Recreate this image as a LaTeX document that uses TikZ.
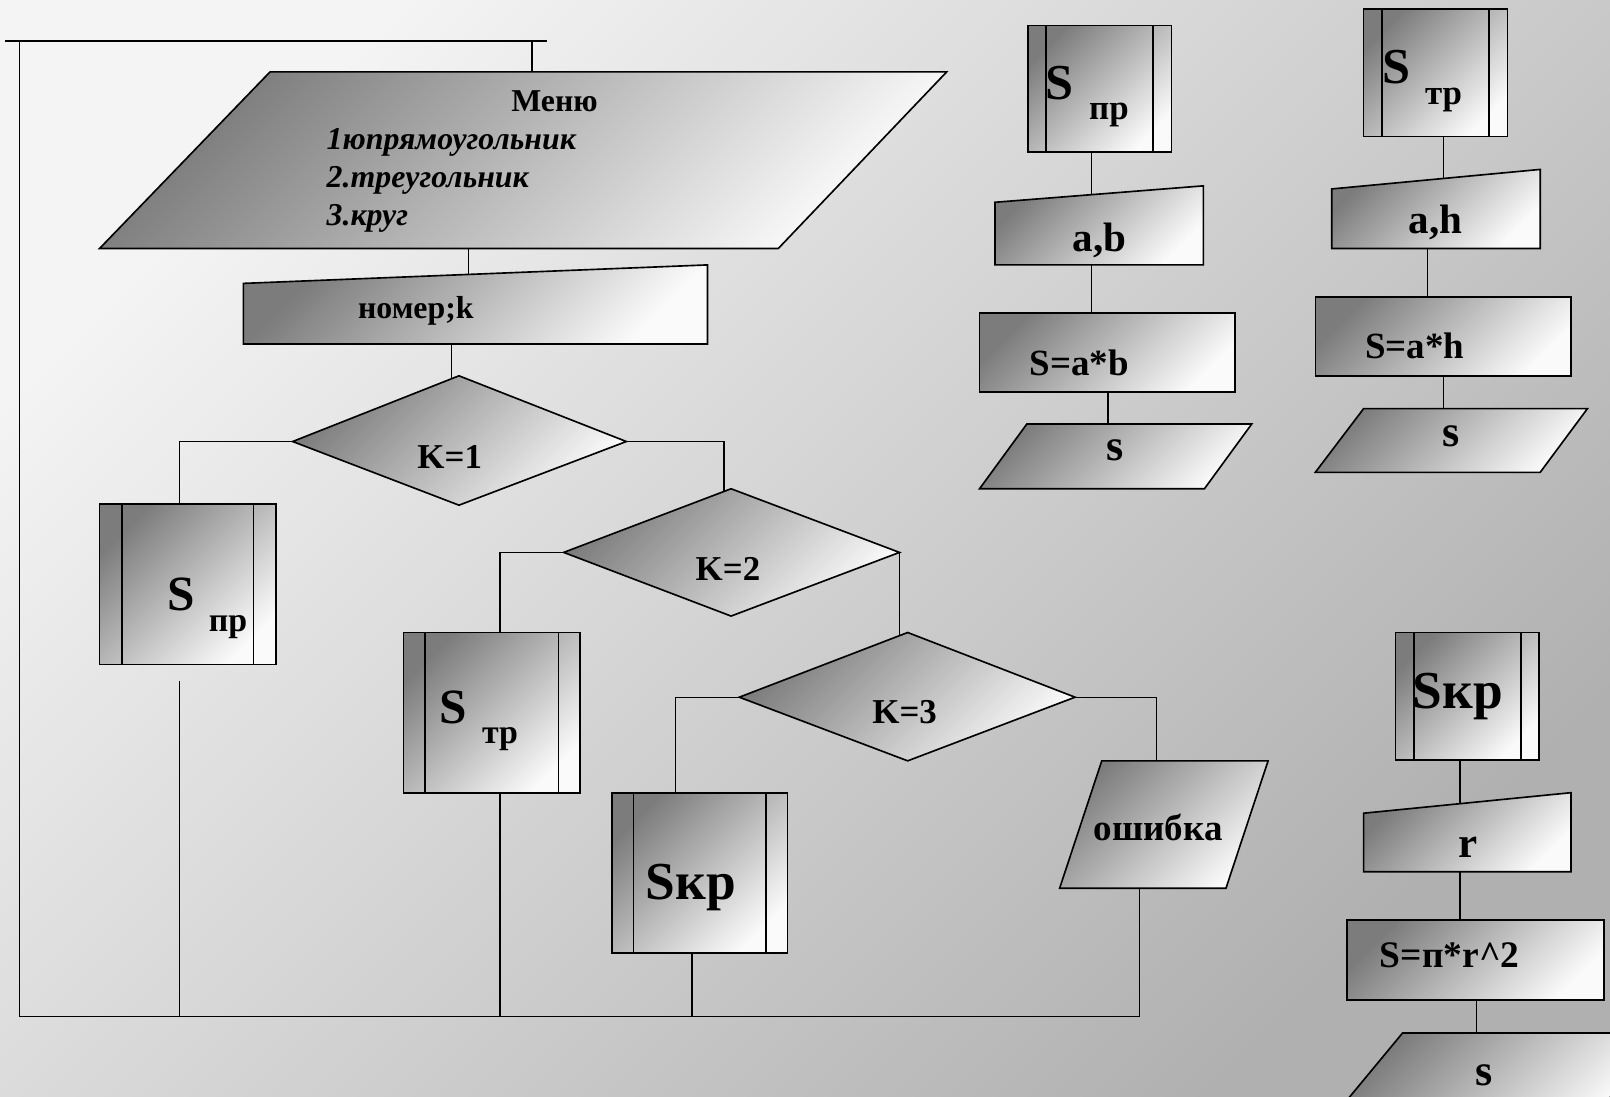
\documentclass[tikz,border=0pt]{standalone}
\usepackage{fontspec}
\setmainfont{Liberation Serif}
\usetikzlibrary{calc}
\definecolor{bgA}{HTML}{F4F4F4}
\definecolor{bgB}{HTML}{B0B0B0}
\definecolor{shA}{HTML}{7C7C7C}
\definecolor{shB}{HTML}{FAFAFA}
\tikzset{
  blk/.style={draw=black, line width=1.6pt, top color=shA, bottom color=shB, shading angle=45},
  strip/.style={line width=1.6pt},
  wire/.style={line width=1.3pt},
  frame/.style={line width=2.4pt},
  txt/.style={inner sep=0pt, font=\bfseries\fontsize{#1}{#1}\selectfont},
  itxt/.style={inner sep=0pt, font=\bfseries\itshape\fontsize{#1}{#1}\selectfont},
}
% predefined-process block: x1,y1,x2,y2, inner strip lines xa,xb
\newcommand\predef[6]{%
  \draw[blk] (#1,#2) rectangle (#3,#4);
  \draw[strip] (#5,#2) -- (#5,#4) (#6,#2) -- (#6,#4);
}
\begin{document}
\begin{tikzpicture}[x=1pt,y=-1pt]
\useasboundingbox (0,0) rectangle (1568,1068);
\clip (0,0) rectangle (1568,1068);
\fill[top color=bgA, bottom color=bgB, shading angle=45] (0,0) rectangle (1568,1068);

% ---------- main program ----------
\draw[blk] (263,70) -- (922,70) -- (758,242) -- (97,242) -- cycle;
\node[txt=31, anchor=base] (menu) at (540,109) {Меню};
\node[itxt=31, anchor=base west] (opt1) at (318,146) {1юпрямоугольник};
\node[itxt=31, anchor=base west] (opt2) at (318,183) {2.треугольник};
\node[itxt=31, anchor=base west] (opt3) at (318,220) {3.круг};

\draw[blk] (237,276) -- (689,258) -- (689,335) -- (237,335) -- cycle;
\node[txt=31] (num) at (405,303) {номер;k};

\draw[blk] (447,366) -- (610,430) -- (447,492) -- (285,430) -- cycle;
\node[txt=34] (k1) at (438,445) {K=1};
\draw[blk] (712,476) -- (876,538) -- (712,600) -- (549,538) -- cycle;
\node[txt=34] (k2) at (709,554) {K=2};
\draw[blk] (884,616) -- (1047,679) -- (884,741) -- (720,679) -- cycle;
\node[txt=34] (k3) at (881,694) {K=3};

\predef{97}{491}{269}{647}{119}{247}
\node[txt=48] (spS) at (176,579) {S};
\node[txt=33] (spI) at (222,611) {пр};
\predef{393}{616}{565}{772}{414}{544}
\node[txt=48] (stS) at (441,689) {S};
\node[txt=33] (stI) at (487,720) {тр};
\predef{596}{772}{767}{928}{617}{746}
\node[txt=52] (sk) at (673,864) {Sкр};

\draw[blk] (1073,741) -- (1235,741) -- (1194,865) -- (1032,865) -- cycle;
\node[txt=36] (err) at (1128,806) {ошибка};

% connection points
\coordinate (lpA) at (5,40);   \coordinate (lpB) at (533,40);
\coordinate (lpL) at (19,40);  \coordinate (lpR) at (518,40);
\coordinate (mnT) at (518,70); \coordinate (bsL) at (19,990);
\coordinate (bsR) at (1110,990);
\coordinate (mnB) at (456,242); \coordinate (nmT) at (456,267);
\coordinate (nmB) at (440,335); \coordinate (d1T) at (440,369);
\coordinate (d1L) at (285,430); \coordinate (d1R) at (610,430);
\coordinate (spT) at (175,491); \coordinate (spB) at (175,663);
\coordinate (d2T) at (705,479);
\coordinate (d2L) at (549,538); \coordinate (d2R) at (876,538);
\coordinate (stT) at (487,616); \coordinate (stB) at (487,772);
\coordinate (d3T) at (876,619);
\coordinate (d3L) at (720,679); \coordinate (d3R) at (1047,679);
\coordinate (skT) at (658,772); \coordinate (skB) at (674,928);
\coordinate (erT) at (1126,741); \coordinate (erB) at (1110,865);

% return loop
\draw[frame] (lpA) -- (lpB);
\draw[wire] (lpR) -- (mnT);
\draw[wire] (lpL) -- (bsL);
\draw[wire] (bsL) -- (bsR);

\draw[wire] (mnB) -- (nmT);
\draw[wire] (nmB) -- (d1T);
\draw[wire] (d1L) -| (spT);
\draw[wire] (d1R) -| (d2T);
\draw[wire] (d2L) -| (stT);
\draw[wire] (d2R) -- (d3T);
\draw[wire] (d3L) -| (skT);
\draw[wire] (d3R) -| (erT);
\draw[wire] (spB) -- (spB |- bsL);
\draw[wire] (stB) -- (stB |- bsL);
\draw[wire] (skB) -- (skB |- bsL);
\draw[wire] (erB) -- (bsR);

% ---------- rectangle area ----------
\predef{1001}{25}{1141}{148}{1019}{1123}
\node[txt=49] (rS) at (1032,81) {S};
\node[txt=34] (rI) at (1080,112) {пр};
\draw[blk] (969,197) -- (1172,181) -- (1172,258) -- (969,258) -- cycle;
\node[txt=40] (rIn) at (1071,234) {a,b};
\draw[blk] (954,305) rectangle (1203,382);
\node[txt=36] (rCalc) at (1051,353) {S=a*b};
\draw[blk] (1000,413) -- (1219,413) -- (1173,476) -- (954,476) -- cycle;
\node[txt=43] (rOut) at (1086,439) {s};
\coordinate (r1) at (1063,148); \coordinate (r2) at (1063,190);
\coordinate (r3) at (1063,258); \coordinate (r4) at (1063,305);
\coordinate (r5) at (1079,382); \coordinate (r6) at (1079,413);
\draw[wire] (r1) -- (r2);
\draw[wire] (r3) -- (r4);
\draw[wire] (r5) -- (r6);

% ---------- triangle area ----------
\predef{1328}{9}{1468}{133}{1346}{1450}
\node[txt=49] (tS) at (1360,65) {S};
\node[txt=34] (tI) at (1406,97) {тр};
\draw[blk] (1297,184) -- (1500,165) -- (1500,242) -- (1297,242) -- cycle;
\node[txt=40] (tIn) at (1398,217) {a,h};
\draw[blk] (1281,289) rectangle (1530,366);
\node[txt=36] (tCalc) at (1378,337) {S=a*h};
\draw[blk] (1328,398) -- (1546,398) -- (1500,460) -- (1281,460) -- cycle;
\node[txt=43] (tOut) at (1413,425) {s};
\coordinate (t1) at (1406,133); \coordinate (t2) at (1406,174);
\coordinate (t3) at (1390,242); \coordinate (t4) at (1390,289);
\coordinate (t5) at (1406,366); \coordinate (t6) at (1406,398);
\draw[wire] (t1) -- (t2);
\draw[wire] (t3) -- (t4);
\draw[wire] (t5) -- (t6);

% ---------- circle area ----------
\predef{1359}{616}{1499}{740}{1377}{1481}
\node[txt=52] (cS) at (1420,678) {Sкр};
\draw[blk] (1328,792) -- (1530,772) -- (1530,849) -- (1328,849) -- cycle;
\node[txt=42] (cIn) at (1430,825) {r};
\draw[blk] (1312,896) rectangle (1562,974);
\node[txt=36.5] (cCalc) at (1412,930) {S=п*r\^{}2};
\draw[blk] (1366,1006) -- (1622,1006) -- (1567,1070) -- (1313,1070) -- cycle;
\node[txt=43] (cOut) at (1445,1047) {s};
\coordinate (c1) at (1422,740); \coordinate (c2) at (1422,783);
\coordinate (c3) at (1422,849); \coordinate (c4) at (1422,896);
\coordinate (c5) at (1438,974); \coordinate (c6) at (1438,1006);
\draw[wire] (c1) -- (c2);
\draw[wire] (c3) -- (c4);
\draw[wire] (c5) -- (c6);
\end{tikzpicture}
\end{document}
